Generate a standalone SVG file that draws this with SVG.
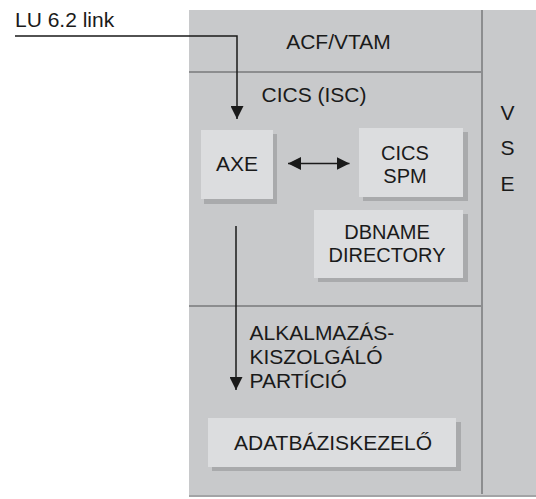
<svg xmlns="http://www.w3.org/2000/svg" width="536" height="499" viewBox="0 0 536 499">
<style>
text{font-family:"Liberation Sans",Arial,sans-serif;font-size:21px;fill:#1a1a1a}
.c{text-anchor:middle}
.t2{font-size:20px}
.shadow{fill:#a9aaac}
.box{fill:#dcdddf}
.div{stroke:#8c8d8f;stroke-width:2;fill:none}
.conn{stroke:#1a1a1a;stroke-width:1.5;fill:none}
</style>
<defs>
<marker id="ah" viewBox="0 0 13 13" refX="13" refY="6.5" markerWidth="13" markerHeight="13" markerUnits="userSpaceOnUse" orient="auto-start-reverse">
<path d="M0,0 L13,6.5 L0,13 Z" fill="#1a1a1a"/>
</marker>
</defs>
<g id="frame">
<rect x="189" y="12" width="347" height="485" fill="#a3a4a6"/>
<rect x="189" y="10" width="347" height="485" fill="#c8c9cb"/>
<line class="div" x1="189" y1="72" x2="482" y2="72"/>
<line class="div" x1="189" y1="306" x2="482" y2="306"/>
<line class="div" x1="482" y1="10" x2="482" y2="494"/>
</g>
<g id="acf-vtam"><text class="c" x="338.5" y="48.5">ACF/VTAM</text></g>
<g id="cics-isc"><text x="261.5" y="101.5">CICS (ISC)</text></g>
<g id="vse">
<text class="c" x="507.5" y="119.5">V</text>
<text class="c" x="507.5" y="155">S</text>
<text class="c" x="507.5" y="190.5">E</text>
</g>
<g id="axe">
<rect class="shadow" x="204" y="134" width="73" height="70"/>
<rect class="box" x="201" y="130" width="72" height="69"/>
<text class="c" x="237" y="171">AXE</text>
</g>
<g id="cics-spm">
<rect class="shadow" x="363" y="132" width="105" height="69"/>
<rect class="box" x="359" y="128" width="104" height="69"/>
<text class="c t2" x="405" y="160">CICS</text>
<text class="c t2" x="405" y="182.5">SPM</text>
</g>
<g id="dbname-directory">
<rect class="shadow" x="318" y="214" width="150" height="68"/>
<rect class="box" x="314" y="210" width="149" height="68"/>
<text class="c t2" x="387" y="239">DBNAME</text>
<text class="c t2" x="387" y="262">DIRECTORY</text>
</g>
<g id="alkalmazas">
<text x="249.5" y="340">ALKALMAZÁS-</text>
<text x="249.5" y="363.5">KISZOLGÁLÓ</text>
<text x="249.5" y="387.5">PARTÍCIÓ</text>
</g>
<g id="adatbaziskezelo">
<rect class="shadow" x="212" y="422" width="249" height="49"/>
<rect class="box" x="208" y="418" width="248" height="49"/>
<text class="c" x="333" y="449.5">ADATBÁZISKEZELŐ</text>
</g>
<g id="lu-link"><text x="15" y="27">LU 6.2 link</text></g>
<g id="connectors">
<path class="conn" d="M15,36 H237 V119" marker-end="url(#ah)"/>
<line class="conn" x1="288" y1="163.5" x2="349.5" y2="163.5" marker-start="url(#ah)" marker-end="url(#ah)"/>
<line class="conn" x1="236" y1="226" x2="236" y2="390" marker-end="url(#ah)"/>
</g>
</svg>
